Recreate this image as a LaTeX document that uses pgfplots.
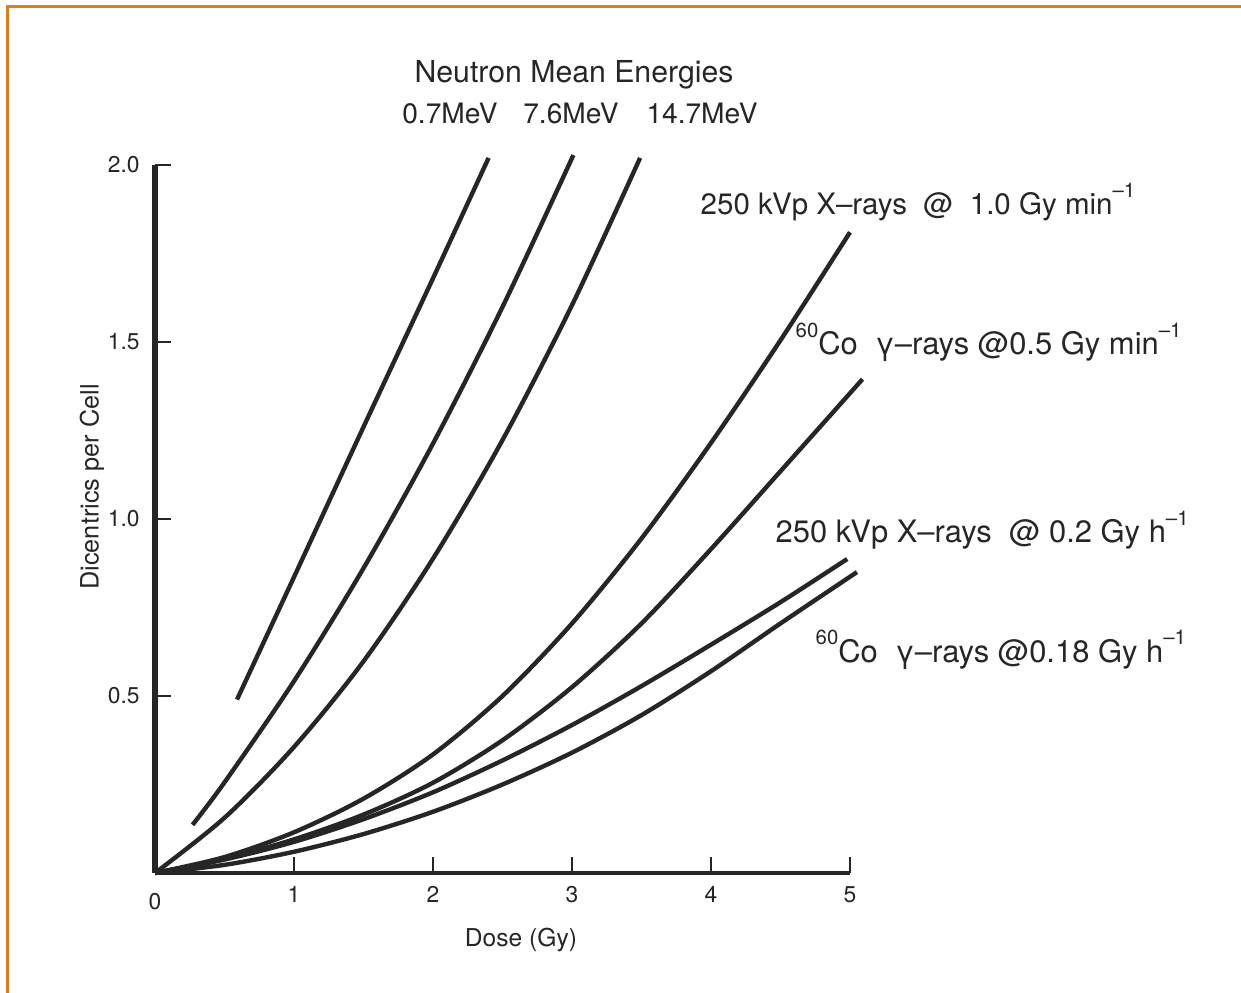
\documentclass[border=0pt]{standalone}
\usepackage{fontspec}
\setmainfont{TeX Gyre Heros}
\usepackage{pgfplots}
\pgfplotsset{compat=1.18}
\definecolor{ink}{HTML}{262626}
\definecolor{frameorange}{HTML}{E07B1F}
\newcommand{\fs}[1]{\fontsize{#1}{#1}\selectfont}
\newcommand{\sups}[1]{\raisebox{1.1ex}{\fs{5.8pt}#1}}
\begin{document}
\begin{tikzpicture}
\path[use as bounding box] (0,0) rectangle (124.1mm,99.3mm);
\begin{axis}[
  at={(15.5mm,12.0mm)}, anchor=south west, scale only axis,
  width=69.5mm, height=70.8mm,
  xmin=0, xmax=5, ymin=0, ymax=2,
  axis x line=bottom, axis y line=left,
  axis line style={-, ink},
  x axis line style={line width=1.2pt},
  y axis line style={line width=1.5pt},
  xtick={1,2,3,4,5}, xticklabels={1,2,3,4,5},
  ytick={0.5,1,1.5,2}, yticklabels={0.5,1.0,1.5,2.0},
  tick align=inside, major tick length=1.6mm,
  tick style={ink, line width=0.7pt},
  /pgf/number format/assume math mode=true,
  ticklabel style={font=\fs{6.5pt}, text=ink},
  yticklabel style={xshift=-0.3mm},
  xticklabel style={yshift=-0.1mm},
  clip=false,
]
% 0.7 MeV
\addplot[ink, line width=1.25pt, smooth, tension=0.5] coordinates {
(0.59,0.49) (1.0,0.836) (1.5,1.26) (2.0,1.68) (2.4,2.02)};
% 7.6 MeV
\addplot[ink, line width=1.25pt, smooth, tension=0.5] coordinates {
(0.27,0.136) (0.5,0.256) (1.0,0.542) (1.5,0.861) (2.0,1.213) (2.5,1.599) (3.01,2.028)};
% 14.7 MeV
\addplot[ink, line width=1.25pt, smooth, tension=0.5] coordinates {
(0,0) (0.5,0.156) (1.0,0.356) (1.5,0.598) (2.0,0.888) (2.5,1.223) (3.0,1.604) (3.49,2.02)};
% 250 kVp X-rays 1.0 Gy/min
\addplot[ink, line width=1.25pt, smooth, tension=0.5] coordinates {
(0,0) (0.5,0.045) (1.0,0.115) (1.5,0.21) (2.0,0.335) (2.5,0.50) (3.0,0.705) (3.5,0.945) (4.0,1.215) (4.5,1.505) (5.0,1.81)};
% 60Co 0.5 Gy/min
\addplot[ink, line width=1.25pt, smooth, tension=0.5] coordinates {
(0,0) (0.5,0.04) (1.0,0.095) (1.5,0.165) (2.0,0.255) (2.5,0.375) (3.0,0.525) (3.5,0.705) (4.0,0.915) (4.5,1.135) (5.09,1.395)};
% 250 kVp X-rays 0.2 Gy/h
\addplot[ink, line width=1.25pt, smooth, tension=0.5] coordinates {
(0,0) (0.5,0.038) (1.0,0.088) (1.5,0.152) (2.0,0.228) (2.5,0.318) (3.0,0.418) (3.5,0.528) (4.0,0.645) (4.5,0.765) (4.98,0.887)};
% 60Co 0.18 Gy/h
\addplot[ink, line width=1.25pt, smooth, tension=0.5] coordinates {
(0,0) (0.5,0.023) (1.0,0.06) (1.5,0.11) (2.0,0.173) (2.5,0.25) (3.0,0.34) (3.5,0.446) (4.0,0.57) (4.5,0.705) (5.05,0.85)};
\end{axis}
\begin{scope}[x=0.1mm, y=-0.1mm, shift={(0,99.3mm)}]
\draw[frameorange, line width=0.3mm] (7,993) -- (7,7) -- (1241,7);
\node[font=\fs{8.6pt}, text=ink, anchor=base] at (574,83) {Neutron Mean Energies};
\node[font=\fs{8pt}, text=ink, anchor=base] at (450,124) {0.7MeV};
\node[font=\fs{8pt}, text=ink, anchor=base] at (571,124) {7.6MeV};
\node[font=\fs{8pt}, text=ink, anchor=base] at (702,124) {14.7MeV};
\node[font=\fs{8.4pt}, text=ink, anchor=base west, inner sep=0pt] at (700,215) {250 kVp X--rays \ @\ \ 1.0 Gy min\sups{--1}};
\node[font=\fs{8.8pt}, text=ink, anchor=base west, inner sep=0pt] at (795,355) {\sups{60}Co\ \ γ--rays @0.5 Gy min\sups{--1}};
\node[font=\fs{8.8pt}, text=ink, anchor=base west, inner sep=0pt] at (775,543) {250 kVp X--rays \ @\ 0.2 Gy h\sups{--1}};
\node[font=\fs{8.8pt}, text=ink, anchor=base west, inner sep=0pt] at (815,662) {\sups{60}Co\ \ γ--rays @0.18 Gy h\sups{--1}};
\node[font=\fs{6.5pt}, text=ink] at (155,902) {0};
\node[font=\fs{7pt}, text=ink, anchor=base] at (521,946) {Dose (Gy)};
\node[font=\fs{7.2pt}, text=ink, rotate=90] at (92,487) {Dicentrics per Cell};
\end{scope}
\end{tikzpicture}
\end{document}
